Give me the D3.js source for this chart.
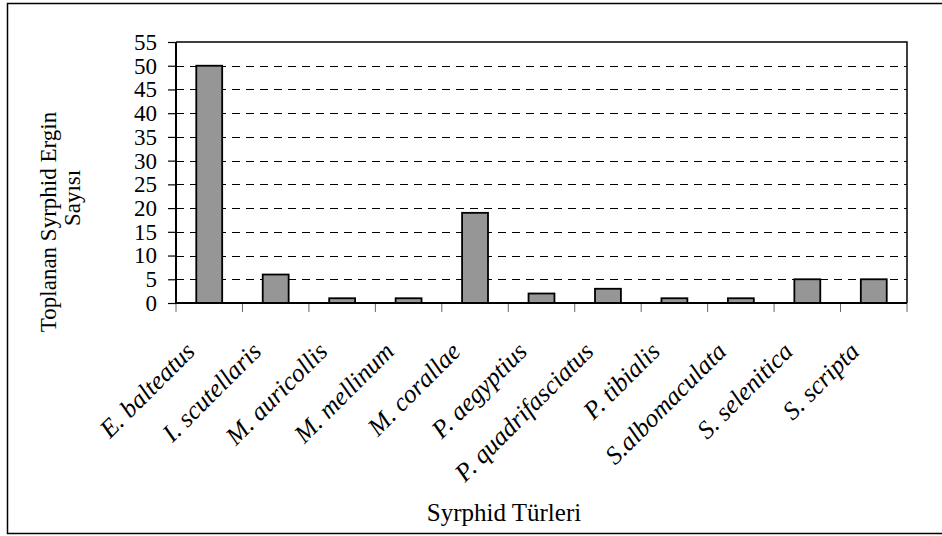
<!DOCTYPE html>
<html>
<head>
<meta charset="utf-8">
<script src="https://cdn.jsdelivr.net/npm/d3@7"></script>
<style>
  body { margin: 0; background: #fff; }
  svg { display: block; font-family: "Liberation Serif", "Times New Roman", serif; }
</style>
</head>
<body>
<svg id="chart" width="942" height="536"></svg>
<script>
const species = ["E. balteatus", "I. scutellaris", "M. auricollis", "M. mellinum", "M. corallae",
    "P. aegyptius", "P. quadrifasciatus", "P. tibialis", "S.albomaculata", "S. selenitica", "S. scripta"];
const counts = [50, 6, 1, 1, 19, 2, 3, 1, 1, 5, 5];
const yTicks = [0, 5, 10, 15, 20, 25, 30, 35, 40, 45, 50, 55];

const width = 942, height = 536;
const marginLeft = 176, marginRight = 35, marginTop = 42, marginBottom = 233;

const svg = d3.select("#chart");

// outer frame
svg.append("rect")
    .attr("x", 7.5)
    .attr("y", 3.5)
    .attr("width", 940)
    .attr("height", 530)
    .attr("fill", "none")
    .attr("stroke", "#000")
    .attr("stroke-width", 1.5);

const x = d3.scaleBand()
    .domain(species)
    .range([marginLeft, width - marginRight])
    .paddingInner(0)
    .paddingOuter(0);

const y = d3.scaleLinear()
    .domain([0, 55])
    .range([height - marginBottom, marginTop]);

// dashed grid
svg.append("g")
    .selectAll("line")
    .data(yTicks.filter(d => d > 0 && d < 55))
    .join("line")
    .attr("x1", marginLeft)
    .attr("x2", width - marginRight)
    .attr("y1", d => Math.round(y(d)) + 0.5)
    .attr("y2", d => Math.round(y(d)) + 0.5)
    .attr("stroke", "#000")
    .attr("stroke-width", 1)
    .attr("stroke-dasharray", "8,6");

// top and right border of plot area
svg.append("path")
    .attr("d", `M${marginLeft},${marginTop}H${width - marginRight}V${height - marginBottom}`)
    .attr("fill", "none")
    .attr("stroke", "#000")
    .attr("stroke-width", 1.5);

// bars
const barW = x.bandwidth() * 0.39;
svg.append("g")
    .selectAll("rect")
    .data(species)
    .join("rect")
    .attr("x", d => x(d) + (x.bandwidth() - barW) / 2)
    .attr("y", (d, i) => y(counts[i]))
    .attr("width", barW)
    .attr("height", (d, i) => y(0) - y(counts[i]))
    .attr("fill", "#969696")
    .attr("stroke", "#000")
    .attr("stroke-width", 1.8);

// x axis ticks (category boundaries)
const boundaries = species.map(d => x(d)).concat([width - marginRight]);
svg.append("g")
    .selectAll("line")
    .data(boundaries)
    .join("line")
    .attr("x1", d => d)
    .attr("x2", d => d)
    .attr("y1", height - marginBottom)
    .attr("y2", height - marginBottom + 9)
    .attr("stroke", "#666")
    .attr("stroke-width", 1);

// y axis
const yAxis = svg.append("g")
    .attr("transform", `translate(${marginLeft},0)`)
    .call(d3.axisLeft(y).tickValues(yTicks).tickSize(8).tickPadding(11));
yAxis.select(".domain").remove();
yAxis.selectAll(".tick line").attr("stroke", "#000").attr("stroke-width", 1.2);
yAxis.selectAll(".tick text")
    .attr("font-family", "Liberation Serif, Times New Roman, serif")
    .attr("font-size", "23px")
    .attr("fill", "#000");

// axis lines
svg.append("line")
    .attr("x1", marginLeft).attr("x2", marginLeft)
    .attr("y1", marginTop).attr("y2", height - marginBottom)
    .attr("stroke", "#000").attr("stroke-width", 2);
svg.append("line")
    .attr("x1", marginLeft).attr("x2", width - marginRight)
    .attr("y1", height - marginBottom).attr("y2", height - marginBottom)
    .attr("stroke", "#000").attr("stroke-width", 2);

// category labels, rotated
svg.append("g")
    .selectAll("text")
    .data(species)
    .join("text")
    .attr("transform", d => `translate(${x(d) + x.bandwidth() / 2 - 13}, ${353}) rotate(-45)`)
    .style("text-anchor", "end")
    .attr("font-size", "25.5px")
    .attr("font-style", "italic")
    .text(d => d);

// y title, two lines
const yTitle = svg.append("text")
    .attr("transform", `translate(56, 222) rotate(-90)`)
    .style("text-anchor", "middle")
    .attr("font-size", "23px");
yTitle.append("tspan").attr("x", 0).attr("y", 0).text("Toplanan Syrphid Ergin");
yTitle.append("tspan").attr("x", 24).attr("y", 24).text("Sayısı");

// x title
svg.append("text")
    .attr("x", 504)
    .attr("y", 521)
    .style("text-anchor", "middle")
    .attr("font-size", "25px")
    .text("Syrphid Türleri");
</script>
</body>
</html>
